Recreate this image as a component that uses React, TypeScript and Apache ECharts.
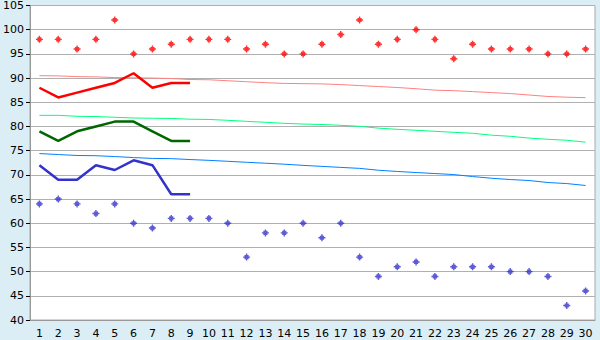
import React, { useEffect, useRef } from "react";
import * as echarts from "echarts";

const categories = Array.from({ length: 30 }, (_, i) => String(i + 1));

const redPoints = [98, 98, 96, 98, 102, 95, 96, 97, 98, 98, 98, 96, 97, 95, 95, 97, 99, 102, 97, 98, 100, 98, 94, 97, 96, 96, 96, 95, 95, 96];
const bluePoints = [64, 65, 64, 62, 64, 60, 59, 61, 61, 61, 60, 53, 58, 58, 60, 57, 60, 53, 49, 51, 52, 49, 51, 51, 51, 50, 50, 49, 43, 46];

const redLine = [88, 86, 87, 88, 89, 91, 88, 89, 89];
const greenLine = [79, 77, 79, 80, 81, 81, 79, 77, 77];
const blueLine = [72, 69, 69, 72, 71, 73, 72, 66, 66];

const pinkTrend = [90.5, 90.45, 90.3, 90.25, 90.1, 90.05, 90.0, 89.9, 89.7, 89.65, 89.45, 89.25, 89.05, 88.9, 88.85, 88.8, 88.65, 88.45, 88.25, 88.05, 87.8, 87.5, 87.4, 87.2, 87.0, 86.8, 86.5, 86.2, 86.05, 85.95];
const greenTrend = [82.3, 82.3, 82.1, 82.05, 81.9, 81.75, 81.7, 81.65, 81.5, 81.45, 81.27, 81.06, 80.86, 80.65, 80.5, 80.4, 80.24, 80.03, 79.65, 79.41, 79.21, 79.0, 78.79, 78.59, 78.2, 77.97, 77.6, 77.35, 77.15, 76.75];
const blueTrend = [74.4, 74.2, 74.0, 73.95, 73.78, 73.57, 73.4, 73.35, 73.16, 73.0, 72.8, 72.6, 72.4, 72.2, 71.96, 71.75, 71.54, 71.34, 70.95, 70.7, 70.48, 70.27, 70.06, 69.65, 69.3, 69.03, 68.83, 68.41, 68.2, 67.8];

const yTicks = { min: 40, max: 105, interval: 5 };

const markerPath = "path://M2,0H3V1H4V2H5V3H4V4H3V5H2V4H1V3H0V2H1V1H2Z";

export default function App() {
  const ref = useRef<HTMLDivElement>(null);
  useEffect(() => {
    if (!ref.current) return;
    const chart = echarts.init(ref.current, undefined, { renderer: "svg" });
    const font = "DejaVu Sans";
    chart.setOption({
      animation: false,
      backgroundColor: "#dbeef6",
      grid: {
        left: 26,
        top: 5,
        right: 5,
        bottom: 20,
        show: true,
        backgroundColor: "#ffffff",
        borderColor: "#aaaaaa",
        borderWidth: 1,
      },
      xAxis: {
        type: "category",
        data: categories,
        boundaryGap: true,
        axisLine: { lineStyle: { color: "#999999", width: 1 } },
        axisTick: { alignWithLabel: true, length: 5, lineStyle: { color: "#000000" } },
        axisLabel: { color: "#000000", fontFamily: font, fontSize: 11, margin: 8, interval: 0 },
        splitLine: { show: false },
      },
      yAxis: {
        type: "value",
        min: yTicks.min,
        max: yTicks.max,
        interval: yTicks.interval,
        axisLine: { show: true, lineStyle: { color: "#999999", width: 1 } },
        axisTick: { show: true, length: 4, lineStyle: { color: "#000000" } },
        axisLabel: { color: "#000000", fontFamily: font, fontSize: 11, margin: 6 },
        splitLine: { show: true, lineStyle: { color: "#b0b0b0", width: 1 } },
      },
      series: [
        { type: "line", data: pinkTrend, symbol: "none", lineStyle: { color: "#ff8080", width: 1 }, z: 2 },
        { type: "line", data: greenTrend, symbol: "none", lineStyle: { color: "#00ff80", width: 1 }, z: 2 },
        { type: "line", data: blueTrend, symbol: "none", lineStyle: { color: "#0080ff", width: 1 }, z: 2 },
        { type: "line", data: redLine, symbol: "none", lineStyle: { color: "#ff0000", width: 2.5 }, z: 3 },
        { type: "line", data: greenLine, symbol: "none", lineStyle: { color: "#006600", width: 2.5 }, z: 3 },
        { type: "line", data: blueLine, symbol: "none", lineStyle: { color: "#3333cc", width: 2.5 }, z: 3 },
        { type: "scatter", data: redPoints, symbol: markerPath, symbolSize: 7, itemStyle: { color: "#ff0000" }, z: 4 },
        { type: "scatter", data: bluePoints, symbol: markerPath, symbolSize: 7, itemStyle: { color: "#3333cc" }, z: 4 },
      ],
    });
    return () => chart.dispose();
  }, []);
  return <div ref={ref} style={{ position: "fixed", left: 0, top: 0, width: 600, height: 340 }} />;
}
